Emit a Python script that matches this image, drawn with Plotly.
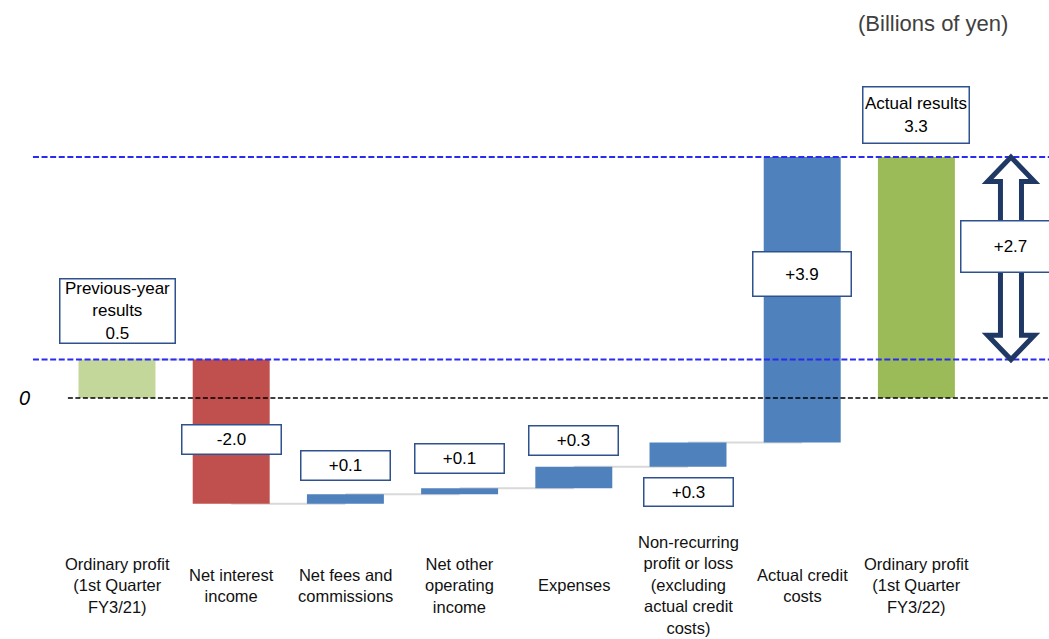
import plotly.graph_objects as go

# Waterfall: ordinary profit bridge, 1st Quarter FY3/21 -> FY3/22 (billions of yen)
categories = [
    "Ordinary profit<br>(1st Quarter<br>FY3/21)",
    "Net interest<br>income",
    "Net fees and<br>commissions",
    "Net other<br>operating<br>income",
    "Expenses",
    "Non-recurring<br>profit or loss<br>(excluding<br>actual credit<br>costs)",
    "Actual credit<br>costs",
    "Ordinary profit<br>(1st Quarter<br>FY3/22)",
]
prior_result = 0.52
changes = [-1.951, 0.13, 0.08, 0.29, 0.33, 3.861]
final_result = 3.26

bar_colors = ["#C4D79B", "#C0504D", "#4F81BD", "#4F81BD", "#4F81BD",
              "#4F81BD", "#4F81BD", "#9BBB59"]

FONT = "Liberation Sans, Arial, sans-serif"
BOX = "#2F528F"
NAVY = "#1F3864"
DASH_BLUE = "#2A2AF2"

# running levels of the bridge
levels = [prior_result]
for c in changes:
    levels.append(levels[-1] + c)

xs = list(range(len(categories)))
bases = [0.0] + levels[:-1] + [0.0]
heights = [prior_result] + changes + [final_result]

fig = go.Figure()
fig.add_trace(go.Bar(
    x=xs, y=heights, base=bases, width=0.674,
    marker=dict(color=bar_colors, line=dict(width=0)),
    hoverinfo="skip", showlegend=False,
))

shapes = []
# grey connectors between consecutive bars
for i in range(len(levels) - 1):
    shapes.append(dict(type="line", xref="x", yref="y", layer="below",
                       x0=i, x1=i + 1, y0=levels[i], y1=levels[i],
                       line=dict(color="#D9D9D9", width=2)))
# zero line and reference lines at the two results
shapes.append(dict(type="line", xref="x", yref="y", x0=-0.43, x1=8.2,
                   y0=0, y1=0, line=dict(color="black", width=1.5, dash="5px,2.5px")))
for lvl in (prior_result, final_result):
    shapes.append(dict(type="line", xref="x", yref="y", x0=-0.736, x1=8.2,
                       y0=lvl, y1=lvl,
                       line=dict(color=DASH_BLUE, width=2, dash="6px,2.6px")))

# hollow double-headed arrow for the year-on-year difference
cx, hw_head, hw_shaft, hh = 7.828, 0.205, 0.092, 0.33
yt, yb = final_result, prior_result
pts = [(cx, yt), (cx + hw_head, yt - hh), (cx + hw_shaft, yt - hh),
       (cx + hw_shaft, yb + hh), (cx + hw_head, yb + hh), (cx, yb),
       (cx - hw_head, yb + hh), (cx - hw_shaft, yb + hh),
       (cx - hw_shaft, yt - hh), (cx - hw_head, yt - hh)]
path = "M " + " L ".join(f"{px},{py}" for px, py in pts) + " Z"
shapes.append(dict(type="path", xref="x", yref="y", path=path,
                   fillcolor="white", line=dict(color=NAVY, width=5)))

annotations = []


def box(x, y, text, w, h, yanchor="middle", yshift=0):
    annotations.append(dict(
        x=x, y=y, xref="x", yref="y", text=text, showarrow=False,
        xanchor="center", yanchor=yanchor, yshift=yshift,
        width=w, height=h, bgcolor="white", bordercolor=BOX, borderwidth=1.5,
        borderpad=0, font=dict(family=FONT, size=17, color="black"), align="center"))


box(0, prior_result, f"Previous-year<br>results<br>{prior_result:.1f}", 114, 63,
    yanchor="bottom", yshift=16)
box(1, levels[1], f"{changes[0]:+.1f}", 98, 28, yanchor="bottom", yshift=49)
box(2, levels[2], f"{changes[1]:+.1f}", 88, 28, yanchor="bottom", yshift=13)
box(3, levels[3], f"{changes[2]:+.1f}", 88, 28, yanchor="bottom", yshift=14)
box(4, levels[4], f"{changes[3]:+.1f}", 88, 28, yanchor="bottom", yshift=11)
box(5, levels[4], f"{changes[4]:+.1f}", 88, 27, yanchor="top", yshift=-10)
box(6, (levels[5] + levels[6]) / 2, f"{changes[5]:+.1f}", 97, 43, yshift=26)
box(7, final_result, f"Actual results<br>{final_result:.1f}", 105, 55,
    yanchor="bottom", yshift=13)
box(cx, (final_result + prior_result) / 2, f"{final_result - prior_result:+.1f}",
    98, 50, yshift=12)

# category captions under the bars
for x, name in zip(xs, categories):
    annotations.append(dict(
        x=x, y=1 - 585 / 639, xref="x", yref="paper", text=name, showarrow=False,
        xanchor="center", yanchor="middle", align="center",
        font=dict(family=FONT, size=16.5, color="#111111")))

annotations.append(dict(x=0.889, y=1 - 24 / 639, xref="paper", yref="paper",
                        text="(Billions of yen)", showarrow=False,
                        xanchor="center", yanchor="middle",
                        font=dict(family=FONT, size=22, color="#404040")))
annotations.append(dict(x=24 / 1049, y=0, xref="paper", yref="y",
                        text="<i>0</i>", showarrow=False,
                        xanchor="center", yanchor="middle",
                        font=dict(family=FONT, size=20, color="black")))

fig.update_layout(
    width=1049, height=639, autosize=False,
    margin=dict(l=0, r=0, t=0, b=0),
    paper_bgcolor="white", plot_bgcolor="white",
    shapes=shapes, annotations=annotations, bargap=0.3,
    xaxis=dict(range=[-1.0245, 8.161], visible=False, fixedrange=True),
    yaxis=dict(range=[-3.261, 5.386], visible=False, fixedrange=True),
    showlegend=False,
)

fig.write_html("out.html", config={"displayModeBar": False})
